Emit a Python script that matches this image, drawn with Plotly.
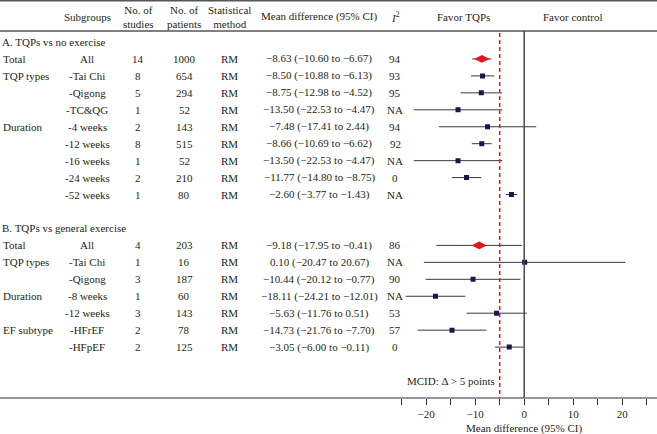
import plotly.graph_objects as go

# ---------------- data ----------------
sections = ["A. TQPs vs no exercise", "B. TQPs vs general exercise"]

group_a = ["Total", "TQP types", "", "", "Duration", "", "", "", ""]
sub_a = ["All", "-Tai Chi", "-Qigong", "-TC&QG", "-4 weeks", "-12 weeks", "-16 weeks", "-24 weeks", "-52 weeks"]
studies_a = [14, 8, 5, 1, 2, 8, 1, 2, 1]
patients_a = [1000, 654, 294, 52, 143, 515, 52, 210, 80]
method_a = ["RM"] * 9
md_a = [-8.63, -8.50, -8.75, -13.50, -7.48, -8.66, -13.50, -11.77, -2.60]
lo_a = [-10.60, -10.88, -12.98, -22.53, -17.41, -10.69, -22.53, -14.80, -3.77]
hi_a = [-6.67, -6.13, -4.52, -4.47, 2.44, -6.62, -4.47, -8.75, -1.43]
i2_a = ["94", "93", "95", "NA", "94", "92", "NA", "0", "NA"]

group_b = ["Total", "TQP types", "", "Duration", "", "EF subtype", ""]
sub_b = ["All", "-Tai Chi", "-Qigong", "-8 weeks", "-12 weeks", "-HFrEF", "-HFpEF"]
studies_b = [4, 1, 3, 1, 3, 2, 2]
patients_b = [203, 16, 187, 60, 143, 78, 125]
method_b = ["RM"] * 7
md_b = [-9.18, 0.10, -10.44, -18.11, -5.63, -14.73, -3.05]
lo_b = [-17.95, -20.47, -20.12, -24.21, -11.76, -21.76, -6.00]
hi_b = [-0.41, 20.67, -0.77, -12.01, 0.51, -7.70, -0.11]
i2_b = ["86", "NA", "90", "NA", "53", "57", "0"]

headers = ["Subgroups", "No. of<br>studies", "No. of<br>patients", "Statistical<br>method",
           "Mean difference (95% CI)", "<i>I</i><sup>2</sup>", "Favor TQPs", "Favor control"]
tick_vals = [-25, -20, -15, -10, -5, 0, 5, 10, 15, 20, 25]
tick_text = ["", "\u221220", "", "\u221210", "", "0", "", "10", "", "20", ""]
mcid = -5

# ---------------- layout constants ----------------
W, H = 657, 434
FONT = "Liberation Serif"
TXT = "#231f20"
FS = 11
PLOT_BOTTOM = 398  # px
rows = []
idx = 0
rows.append(("section", sections[0], idx)); idx += 1
for i in range(len(sub_a)):
    rows.append(("row", (group_a[i], sub_a[i], studies_a[i], patients_a[i], method_a[i],
                         md_a[i], lo_a[i], hi_a[i], i2_a[i], i == 0), idx)); idx += 1
idx += 1
rows.append(("section", sections[1], idx)); idx += 1
for i in range(len(sub_b)):
    rows.append(("row", (group_b[i], sub_b[i], studies_b[i], patients_b[i], method_b[i],
                         md_b[i], lo_b[i], hi_b[i], i2_b[i], i == 0), idx)); idx += 1
mcid_row = idx + 1

ROW_PX = 16.95
TOP_PX = 42.0  # pixel y of index 0
def px_to_idx(p):
    return (p - TOP_PX) / ROW_PX

y_top = px_to_idx(0)
y_bot = px_to_idx(PLOT_BOTTOM)

col_x = {"label": 1, "sub": 87, "studies": 138, "patients": 184, "method": 229,
         "md": 319, "i2": 395, "ftqp": 463, "fctl": 573}
def px(x):
    return x / W

def fmt(v):
    s = f"{abs(v):.2f}"
    return ("\u2212" + s) if v < 0 else s

fig = go.Figure()

annotations = []
def add_text(x, y, text, anchor="center", xref="paper", yref="y", size=FS):
    annotations.append(dict(x=x, y=y, xref=xref, yref=yref, text=text, showarrow=False,
                            xanchor=anchor, yanchor="middle",
                            font=dict(family=FONT, size=size, color=TXT)))

ci_x, ci_y = [], []
sq_x, sq_y, dm_x, dm_y = [], [], [], []
for kind, content, y in rows:
    if kind == "section":
        add_text(px(0), y, content, anchor="left")
        continue
    grp, sub, st, pt, me, md, lo, hi, i2, is_total = content
    if grp:
        add_text(px(col_x["label"]), y, grp, anchor="left")
    add_text(px(col_x["sub"]), y, sub)
    add_text(px(col_x["studies"]), y, str(st))
    add_text(px(col_x["patients"]), y, str(pt))
    add_text(px(col_x["method"]), y, me)
    add_text(px(col_x["md"]), y, f"{fmt(md)} ({fmt(lo)} to {fmt(hi)})")
    add_text(px(col_x["i2"]), y, i2)
    ci_x += [lo, hi, None]
    ci_y += [y, y, None]
    if is_total:
        dm_x.append(md); dm_y.append(y)
    else:
        sq_x.append(md); sq_y.append(y)

hdr_y = px_to_idx(16.5)
for key, h in zip(["sub", "studies", "patients", "method", "md", "i2", "ftqp", "fctl"], headers):
    add_text(px(col_x[key]), hdr_y, h)

add_text(mcid - 0.6, mcid_row, "MCID: \u0394 > 5 points", anchor="right", xref="x")
annotations.append(dict(x=0, y=-(428 - PLOT_BOTTOM) / PLOT_BOTTOM, xref="x", yref="paper",
                        text="Mean difference (95% CI)", showarrow=False, xanchor="center",
                        yanchor="middle", font=dict(family=FONT, size=FS, color=TXT)))

fig.add_trace(go.Scatter(x=ci_x, y=ci_y, mode="lines", line=dict(color="#3a3a3a", width=1),
                         hoverinfo="skip", showlegend=False))
fig.add_trace(go.Scatter(x=sq_x, y=sq_y, mode="markers",
                         marker=dict(symbol="square", size=5, color="#17174f"),
                         showlegend=False))
fig.add_trace(go.Scatter(x=dm_x, y=dm_y, mode="markers",
                         marker=dict(symbol="diamond-wide", size=11, color="#e8141c"),
                         showlegend=False))

sep_y = px_to_idx(31)
shapes = [
    dict(type="line", xref="paper", yref="y", x0=0, x1=1, y0=px_to_idx(0.8), y1=px_to_idx(0.8),
         line=dict(color="#555555", width=1.5)),
    dict(type="line", xref="paper", yref="y", x0=0, x1=1, y0=sep_y, y1=sep_y,
         line=dict(color="#555555", width=1.5)),
    dict(type="line", xref="paper", yref="paper", x0=0, x1=1, y0=0, y1=0,
         line=dict(color="#333333", width=1.2)),
    dict(type="line", xref="x", yref="y", x0=0, x1=0, y0=sep_y, y1=y_bot,
         line=dict(color="#4a4a4a", width=1.5)),
    dict(type="line", xref="x", yref="y", x0=mcid, x1=mcid, y0=px_to_idx(33), y1=y_bot,
         line=dict(color="#e8141c", width=1.5, dash="4px,3px")),
]

x0_px, x1_px = 401.7, 646.7
fig.update_layout(
    width=W, height=H,
    margin=dict(l=0, r=0, t=0, b=H - PLOT_BOTTOM, pad=0),
    paper_bgcolor="white", plot_bgcolor="white",
    showlegend=False,
    font=dict(family=FONT, size=FS, color=TXT),
    xaxis=dict(domain=[x0_px / W, x1_px / W], range=[-25, 25], tickvals=tick_vals,
               ticktext=tick_text, ticks="outside", ticklen=6, tickwidth=1.2,
               tickcolor="#333333", showgrid=False, zeroline=False, showline=False,
               tickfont=dict(family=FONT, size=FS, color=TXT), fixedrange=True),
    yaxis=dict(range=[y_bot, y_top], visible=False, showgrid=False, zeroline=False,
               fixedrange=True),
    annotations=annotations,
    shapes=shapes,
)

fig.write_html("out.html", config={"displayModeBar": False},
               post_script="document.body.style.margin='0';document.body.style.overflow='hidden';")
